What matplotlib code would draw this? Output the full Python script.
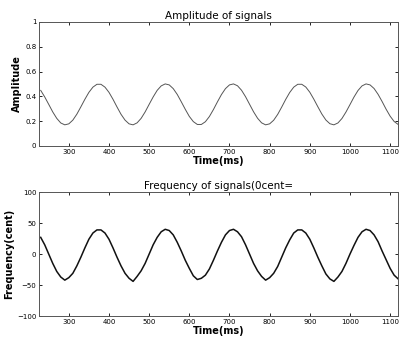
import numpy as np
import matplotlib
matplotlib.use("Agg")
import matplotlib.pyplot as plt

# sample times (ms), read every 10 ms from the plot
time_ms = [230, 240, 250, 260, 270, 280, 290, 300, 310, 320,
           330, 340, 350, 360, 370, 380, 390, 400, 410, 420,
           430, 440, 450, 460, 470, 480, 490, 500, 510, 520,
           530, 540, 550, 560, 570, 580, 590, 600, 610, 620,
           630, 640, 650, 660, 670, 680, 690, 700, 710, 720,
           730, 740, 750, 760, 770, 780, 790, 800, 810, 820,
           830, 840, 850, 860, 870, 880, 890, 900, 910, 920,
           930, 940, 950, 960, 970, 980, 990, 1000, 1010, 1020,
           1030, 1040, 1050, 1060, 1070, 1080, 1090, 1100, 1110, 1120]

amplitude = [0.448, 0.395, 0.335, 0.274, 0.222, 0.185, 0.170, 0.178, 0.208, 0.256,
             0.315, 0.376, 0.432, 0.474, 0.497, 0.497, 0.474, 0.432, 0.376, 0.314,
             0.255, 0.208, 0.178, 0.170, 0.186, 0.222, 0.274, 0.335, 0.395, 0.448,
             0.484, 0.500, 0.492, 0.462, 0.415, 0.356, 0.295, 0.238, 0.196, 0.173,
             0.173, 0.195, 0.237, 0.293, 0.355, 0.414, 0.462, 0.492, 0.500, 0.485,
             0.449, 0.397, 0.336, 0.275, 0.223, 0.186, 0.170, 0.178, 0.207, 0.254,
             0.313, 0.375, 0.431, 0.474, 0.497, 0.497, 0.475, 0.433, 0.377, 0.316,
             0.257, 0.209, 0.179, 0.170, 0.185, 0.221, 0.273, 0.333, 0.394, 0.447,
             0.484, 0.500, 0.492, 0.463, 0.416, 0.358, 0.296, 0.240, 0.197, 0.173]

frequency = [27, 15, 0, -15, -28, -37, -42, -38, -31, -19,
             -5, 10, 24, 34, 39, 39, 34, 24, 10, -5,
             -19, -31, -39, -44, -36, -27, -15, 0, 15, 27,
             36, 40, 38, 31, 19, 5, -10, -23, -35, -41,
             -39, -34, -24, -10, 5, 19, 31, 38, 40, 36,
             28, 15, 0, -15, -27, -36, -42, -38, -31, -20,
             -5, 10, 23, 34, 39, 39, 34, 24, 10, -5,
             -19, -32, -40, -44, -37, -28, -15, 0, 14, 27,
             36, 40, 38, 31, 20, 5, -9, -23, -34, -40]

xticks = [300, 400, 500, 600, 700, 800, 900, 1000, 1100]

fig = plt.figure(figsize=(4.03, 3.37), dpi=100)
ax1 = fig.add_axes([0.097, 0.567, 0.891, 0.368])
ax2 = fig.add_axes([0.097, 0.062, 0.891, 0.368])

ax1.plot(time_ms, amplitude, color='#555555', linewidth=0.7)
ax1.set_xlim(226, 1120)
ax1.set_ylim(0, 1)
ax1.set_yticks([0, 0.2, 0.4, 0.6, 0.8, 1])
ax1.set_yticklabels(['0', '0.2', '0.4', '0.6', '0.8', '1'])
ax1.set_title('Amplitude of signals', fontsize=7.5, pad=2)
ax1.set_ylabel('Amplitude', fontsize=7, fontweight='bold', labelpad=2)
ax1.set_xlabel('Time(ms)', fontsize=7, fontweight='bold', labelpad=1)

ax2.plot(time_ms, frequency, color='#111111', linewidth=1.1)
ax2.set_xlim(226, 1120)
ax2.set_ylim(-100, 100)
ax2.set_yticks([-100, -50, 0, 50, 100])
ax2.set_title('Frequency of signals(0cent=', fontsize=7.5, pad=2)
ax2.set_ylabel('Frequency(cent)', fontsize=7, fontweight='bold', labelpad=2)
ax2.set_xlabel('Time(ms)', fontsize=7, fontweight='bold', labelpad=1)

for ax in (ax1, ax2):
    ax.set_xticks(xticks)
    ax.tick_params(direction='in', top=True, right=True, length=2.5,
                   width=0.6, labelsize=5, pad=2)
    for sp in ax.spines.values():
        sp.set_linewidth(0.7)
        sp.set_color('#555555')

fig.savefig('out.png', dpi=100)
